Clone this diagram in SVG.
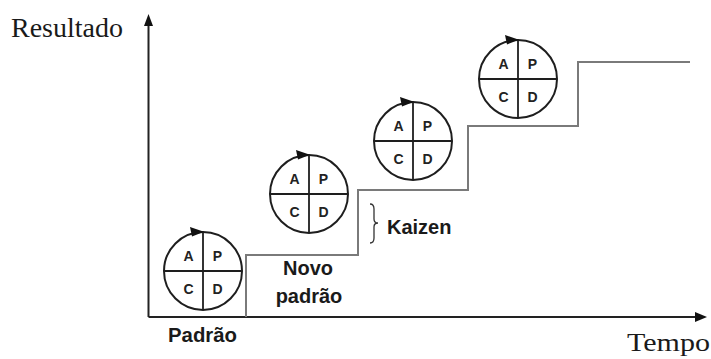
<svg xmlns="http://www.w3.org/2000/svg" width="711" height="359" viewBox="0 0 711 359">
  <style>
    .axis { stroke: #222; stroke-width: 2; fill: none; }
    .step { stroke: #7a7a7a; stroke-width: 2; fill: none; }
    .ring { stroke: #1e1e1e; stroke-width: 2; fill: #fff; }
    .cross { stroke: #1e1e1e; stroke-width: 1.8; }
    .q { font-family: "Liberation Sans", Arial, sans-serif; font-weight: bold; font-size: 14px; fill: #222; text-anchor: middle; }
    .lbl { font-family: "Liberation Sans", Arial, sans-serif; font-weight: bold; font-size: 20px; fill: #1a1a1a; }
    .serif { font-family: "Liberation Serif", "Times New Roman", serif; fill: #1a1a1a; }
    .head { fill: #111; }
  </style>
  <defs>
    <!-- PDCA wheel centred at the origin -->
    <g id="pdca">
      <circle class="ring" cx="0" cy="0" r="39"/>
      <line class="cross" x1="0" y1="-39" x2="0" y2="39"/>
      <line class="cross" x1="-39" y1="0" x2="39" y2="0"/>
      <polygon class="head" points="1,-39.3 -13,-44 -11,-34.5"/>
      <text class="q" x="-14.5" y="-10.5">A</text>
      <text class="q" x="14.5" y="-10.5">P</text>
      <text class="q" x="-14.5" y="22.5">C</text>
      <text class="q" x="14.5" y="22.5">D</text>
    </g>
  </defs>

  <rect width="711" height="359" fill="#fff"/>

  <g id="connectors">
    <!-- axes -->
    <line class="axis" x1="148.5" y1="24" x2="148.5" y2="317"/>
    <polygon class="head" points="148.5,14 144,26 153,26"/>
    <line class="axis" x1="148.5" y1="317" x2="696" y2="317"/>
    <polygon class="head" points="707,317 695,312 695,322"/>
    <!-- staircase of results -->
    <polyline class="step" points="246,317 246,255 358,255 358,190 468,190 468,126 578,126 578,62 690,62"/>
    <!-- brace marking one improvement step -->
    <path d="M370,204 Q374,204 374,209 L374,219 Q374,223 378,223 Q374,223 374,227 L374,238 Q374,243 370,243" fill="none" stroke="#333" stroke-width="1.3"/>
  </g>

  <g id="cycle-1"><use href="#pdca" x="203" y="271"/></g>
  <g id="cycle-2"><use href="#pdca" x="309" y="194"/></g>
  <g id="cycle-3"><use href="#pdca" x="413" y="141"/></g>
  <g id="cycle-4"><use href="#pdca" x="518" y="79"/></g>

  <g id="labels">
    <text class="serif" x="11" y="37" font-size="28">Resultado</text>
    <text class="serif" x="627" y="351" font-size="25" textLength="83" lengthAdjust="spacingAndGlyphs">Tempo</text>
    <text class="lbl" x="168" y="342" textLength="69" lengthAdjust="spacingAndGlyphs">Padrão</text>
    <text class="lbl" x="308" y="275" text-anchor="middle">Novo</text>
    <text class="lbl" x="309" y="303" text-anchor="middle">padrão</text>
    <text class="lbl" x="387" y="234">Kaizen</text>
  </g>
</svg>
